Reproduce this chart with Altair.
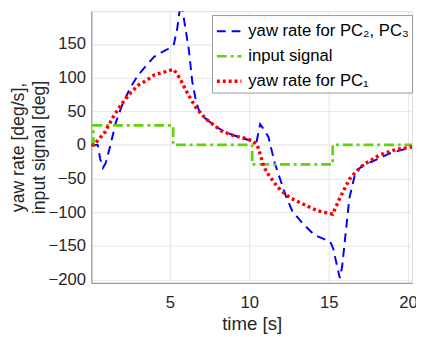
import altair as alt
import pandas as pd

# ---- data ----
blue_t = [0.05, 0.45, 0.6, 0.78, 0.95, 1.2, 1.6, 2.0, 2.5, 3.0, 3.5, 4.0, 4.5, 4.9, 5.25, 5.45, 5.6, 5.72, 5.85, 6.0, 6.2, 6.4, 6.6, 6.8, 7.2, 7.9, 8.5, 9.3, 10.0, 10.45, 10.68, 10.95, 11.2, 11.6, 12.0, 12.3, 12.7, 13.3, 14.1, 15.1, 15.3, 15.45, 15.7, 15.85, 16.0, 16.3, 16.7, 17.2, 17.7, 18.8, 19.5, 20.25]
blue_v = [0, 0, -20, -34, -27, -5, 34, 60, 85, 104, 118, 131, 138, 143, 150, 172, 198, 212, 192, 170, 140, 95, 70, 53, 40, 27, 19, 12, 7, 4, 31, 22, 12, -27, -55, -76, -98, -115, -134, -144, -155, -172, -198, -180, -146, -79, -39, -30, -25, -13, -8, -3]

green_t = [0.05, 0.18, 0.18, 5.2, 5.2, 10.18, 10.18, 15.25, 15.25, 20.25]
green_v = [0, 0, 29, 29, 0, 0, -29, -29, 0, 0]

red_t = [0.05, 0.2, 0.5, 0.9, 1.5, 2.0, 2.5, 3.0, 3.6, 4.0, 4.6, 5.0, 5.25, 5.6, 6.1, 6.7, 7.3, 8.3, 9.0, 9.7, 10.2, 10.5, 10.7, 10.9, 11.2, 11.6, 12.0, 12.6, 13.3, 14.3, 15.1, 15.25, 15.7, 16.3, 16.7, 17.2, 18.2, 19.2, 20.25]
red_v = [0, 0, 8, 19, 45, 62, 77, 89, 97, 104, 108, 111, 112, 100, 77, 53, 38, 20, 14, 10, 6, 0, -15, -32, -44, -57, -68, -79, -87, -98, -102, -103, -79, -51, -40, -29, -15, -7, -3]

series_names = ["yaw rate for PC\u2082, PC\u2083", "input signal", "yaw rate for PC\u2081"]
x_ticks = [5, 10, 15, 20]
y_ticks = [-200, -150, -100, -50, 0, 50, 100, 150]

rows = []
for name, ts, vs in zip(series_names, [blue_t, green_t, red_t], [blue_v, green_v, red_v]):
    for i, (t, v) in enumerate(zip(ts, vs)):
        rows.append({"t": t, "v": v, "series": name, "idx": i})
df = pd.DataFrame(rows)

FONT = "Liberation Sans"

color = alt.Color("series:N", sort=series_names,
                  scale=alt.Scale(domain=series_names, range=["#0000FF", "#64D20A", "#FF0000"]),
                  legend=alt.Legend(title=None, orient="none", legendX=123, legendY=4,
                                    symbolType="stroke", symbolSize=625, labelFontSize=17,
                                    labelFont=FONT, labelColor="#000000", labelOffset=5,
                                    rowPadding=3, padding=3, fillColor="white",
                                    strokeColor="#999999", labelLimit=300))
dash = alt.StrokeDash("series:N", sort=series_names,
                      scale=alt.Scale(domain=series_names, range=[[9, 6], [10, 4, 3, 4], [3, 3]]),
                      legend=alt.Legend(title=None))
width = alt.StrokeWidth("series:N", sort=series_names,
                        scale=alt.Scale(domain=series_names, range=[2, 3.5, 3.4]),
                        legend=alt.Legend(title=None))

x = alt.X("t:Q", scale=alt.Scale(domain=[0.05, 20.25], nice=False, zero=False),
          axis=alt.Axis(values=x_ticks, title="time [s]", grid=True, ticks=False,
                        labelFontSize=17, titleFontSize=19, labelFont=FONT, titleFont=FONT,
                        titleFontWeight="normal", labelColor="#262626", titleColor="#262626",
                        domainColor="#8a8a8a", gridColor="#e6e6e6", labelPadding=12,
                        titlePadding=5, labelFlush=False))
y = alt.Y("v:Q", scale=alt.Scale(domain=[-205, 199], nice=False, zero=False),
          axis=alt.Axis(values=y_ticks, title=["yaw rate [deg/s],", "input signal [deg]"],
                        grid=True, ticks=False, labelFontSize=17, titleFontSize=18,
                        labelFont=FONT, titleFont=FONT, titleFontWeight="normal",
                        labelColor="#262626", titleColor="#262626", domainColor="#8a8a8a",
                        gridColor="#e6e6e6", labelPadding=6, titlePadding=-1,
                        titleLineHeight=22))

base = alt.Chart(df)
layers = []
for name in series_names:
    layers.append(
        base.transform_filter(alt.datum.series == name)
        .mark_line(clip=True, strokeCap="butt")
        .encode(x=x, y=y, color=color, strokeDash=dash, strokeWidth=width,
                order=alt.Order("idx:Q"))
    )

chart = alt.layer(*layers).properties(
    width=327, height=277,
    autosize=alt.AutoSizeParams(type="none"),
    padding={"left": 85, "top": 0, "right": 4, "bottom": 50},
).configure_view(stroke="#8a8a8a", strokeWidth=1).configure(background="white")

chart.save("out.html", embed_options={"renderer": "svg", "actions": False})
